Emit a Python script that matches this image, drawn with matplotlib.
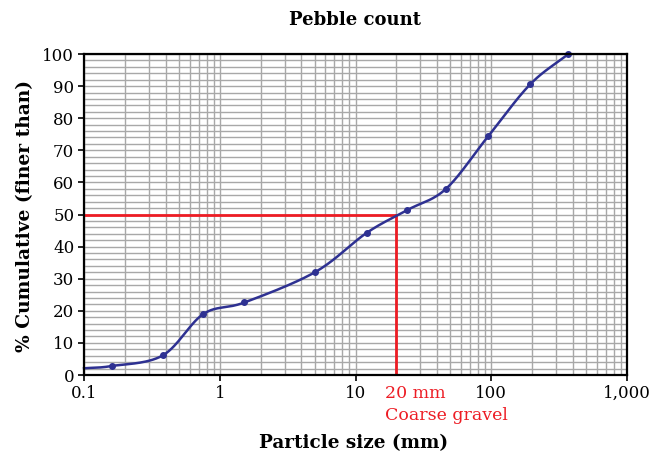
import numpy as np
import matplotlib
matplotlib.use("Agg")
import matplotlib.pyplot as plt
from matplotlib.ticker import FixedLocator, LogLocator, NullFormatter

# particle size (mm) and cumulative % finer
size_mm = [0.1, 0.16, 0.38, 0.757, 1.52, 5.06, 12.1, 24.1, 46.4, 95, 194, 370]
pct_finer = [2.1, 2.8, 6.1, 19.0, 22.6, 32.1, 44.3, 51.4, 58.0, 74.4, 90.6, 100]
has_marker = [False, True, True, True, True, True, True, True, True, True, True, True]

d50_size = 20
d50_pct = 50
x_ticks = [0.1, 1, 10, 100, 1000]
x_tick_labels = ["0.1", "1", "10", "100", "1,000"]
y_ticks = list(range(0, 101, 10))

blue = "#2e3192"
red = "#ed1c24"
grid_col = "#a8a8a8"
font = "DejaVu Serif"


def catmull_rom(xs, ys, n=30):
    # smooth line through the points (done in log-x space)
    pts = np.column_stack([xs, ys])
    pts = np.vstack([2 * pts[0] - pts[1], pts, 2 * pts[-1] - pts[-2]])
    out = []
    for i in range(1, len(pts) - 2):
        p0, p1, p2, p3 = pts[i - 1], pts[i], pts[i + 1], pts[i + 2]
        t = np.linspace(0, 1, n, endpoint=False)[:, None]
        seg = 0.5 * ((2 * p1) + (-p0 + p2) * t + (2 * p0 - 5 * p1 + 4 * p2 - p3) * t ** 2
                     + (-p0 + 3 * p1 - 3 * p2 + p3) * t ** 3)
        out.append(seg)
    out.append(pts[-2][None, :])
    out = np.vstack(out)
    return out[:, 0], out[:, 1]


fig = plt.figure(figsize=(6.57, 4.54), dpi=100)
ax = fig.add_axes([0.1279, 0.174, 0.8264, 0.707])

ax.set_xscale("log")
ax.set_xlim(0.1, 1000)
ax.set_ylim(0, 100)

# grid
ax.xaxis.set_minor_locator(LogLocator(base=10, subs=np.arange(2, 10)))
ax.xaxis.set_minor_formatter(NullFormatter())
ax.yaxis.set_minor_locator(FixedLocator(range(0, 101, 2)))
ax.grid(True, which="both", axis="both", color=grid_col, linewidth=1.0, zorder=0)
ax.tick_params(which="minor", length=0)

# D50 guide lines
ax.plot([0.1, d50_size], [d50_pct, d50_pct], color=red, linewidth=2, zorder=3)
ax.plot([d50_size, d50_size], [0, d50_pct], color=red, linewidth=2, zorder=3)

# gradation curve
lx, ly = catmull_rom(np.log10(size_mm), np.array(pct_finer, dtype=float))
ax.plot(10 ** lx, ly, color=blue, linewidth=1.8, zorder=4, clip_on=False)
mx = [s for s, m in zip(size_mm, has_marker) if m]
my = [p for p, m in zip(pct_finer, has_marker) if m]
ax.plot(mx, my, "o", color=blue, markersize=4, zorder=5, clip_on=False)

ax.xaxis.set_major_locator(FixedLocator(x_ticks))
ax.set_xticklabels(x_tick_labels)
ax.set_yticks(y_ticks)
ax.tick_params(which="major", direction="out", length=4, width=1.2, color="black",
               labelsize=12, pad=3)
for lab in ax.get_xticklabels() + ax.get_yticklabels():
    lab.set_family(font)

for sp in ax.spines.values():
    sp.set_linewidth(1.6)
    sp.set_color("black")
    sp.set_zorder(6)

# 20 mm annotation
ax.annotate("20 mm", xy=(d50_size, 0), xycoords="data",
            xytext=(-8, -13), textcoords="offset points", ha="left", va="center",
            color=red, fontsize=12.5, family=font)
ax.annotate("Coarse gravel", xy=(d50_size, 0), xycoords="data",
            xytext=(-8, -29), textcoords="offset points", ha="left", va="center",
            color=red, fontsize=12.5, family=font)

fig.text(0.541, 0.956, "Pebble count", ha="center", va="center",
         fontsize=13, fontweight="bold", family=font)
fig.text(0.538, 0.024, "Particle size (mm)", ha="center", va="center",
         fontsize=13.2, fontweight="bold", family=font)
fig.text(0.038, 0.525, "% Cumulative (finer than)", ha="center", va="center",
         rotation=90, fontsize=13.4, fontweight="bold", family=font)

fig.savefig("out.png", dpi=100)
